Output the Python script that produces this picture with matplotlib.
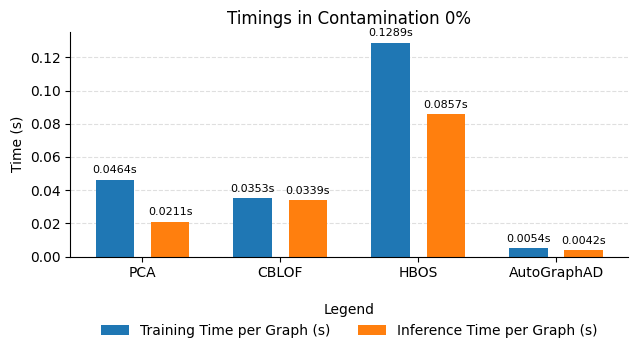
import numpy as np
from matplotlib import pyplot as plt

methods = ["PCA", "CBLOF", "HBOS", "AutoGraphAD"]
train_times = [0.0464, 0.0353, 0.1289, 0.0054]
infer_times = [0.0211, 0.0339, 0.0857, 0.0042]

fig, ax = plt.subplots(figsize=(6.38, 3.54), dpi=100)

x = np.arange(len(methods))
w = 0.28
b1 = ax.bar(x - 0.2, train_times, w, color="#1f77b4", label="Training Time per Graph (s)")
b2 = ax.bar(x + 0.2, infer_times, w, color="#ff7f0e", label="Inference Time per Graph (s)")

for bars in (b1, b2):
    for b in bars:
        h = b.get_height()
        ax.annotate("%.4fs" % h, (b.get_x() + b.get_width() / 2, h),
                    xytext=(0, 3), textcoords="offset points",
                    ha="center", va="bottom", fontsize=8)

ax.set_ylim(0, max(train_times) * 1.05)
ax.set_xticks(x)
ax.set_xticklabels(methods)
ax.set_ylabel("Time (s)")
ax.set_title("Timings in Contamination 0%")
ax.yaxis.grid(True, linestyle="--", alpha=0.4)
ax.set_axisbelow(True)
ax.spines["top"].set_visible(False)
ax.spines["right"].set_visible(False)

ax.legend(title="Legend", loc="upper center", bbox_to_anchor=(0.5, -0.15),
          ncol=2, frameon=False)

fig.subplots_adjust(left=0.11, right=0.985, top=0.91, bottom=0.275)
fig.savefig("out.png")
